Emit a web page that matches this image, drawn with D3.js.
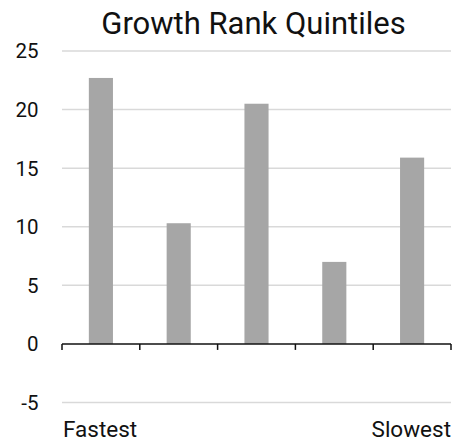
<!DOCTYPE html>
<html>
<head>
<meta charset="utf-8">
<script src="https://cdn.jsdelivr.net/npm/d3@7"></script>
<style>
  html, body { margin: 0; padding: 0; background: #fff; }
  svg { display: block; font-family: Roboto, "DejaVu Sans", sans-serif; }
</style>
</head>
<body>
<svg id="chart" width="456" height="441"></svg>
<script>
// Growth rank quintiles, fastest to slowest
const quintiles = ["Q1", "Q2", "Q3", "Q4", "Q5"];
const quintileLabels = ["Fastest", "", "", "", "Slowest"];
const values = [22.7, 10.3, 20.5, 7.0, 15.9];
const yTicks = [-5, 0, 5, 10, 15, 20, 25];

const svg = d3.select("#chart");
const margin = { top: 51, right: 5, bottom: 38.5, left: 62 };
const width = 456, height = 441;

const x = d3.scaleBand()
  .domain(quintiles)
  .range([margin.left, width - margin.right])
  .paddingInner(0.69)
  .paddingOuter(0.345);

const y = d3.scaleLinear()
  .domain([-5, 25])
  .range([height - margin.bottom, margin.top]);

// title
svg.append("text")
  .attr("x", (margin.left + width - margin.right) / 2 - 3)
  .attr("y", 34)
  .attr("text-anchor", "middle")
  .attr("font-size", 31)
  .attr("fill", "#111")
  .text("Growth Rank Quintiles");

// horizontal gridlines
svg.append("g")
  .selectAll("line")
  .data(yTicks.filter(d => d !== 0))
  .join("line")
  .attr("x1", margin.left)
  .attr("x2", width - margin.right)
  .attr("y1", d => y(d))
  .attr("y2", d => y(d))
  .attr("stroke", "#d9d9d9")
  .attr("stroke-width", 1.5);

// y tick labels
svg.append("g")
  .selectAll("text")
  .data(yTicks)
  .join("text")
  .attr("x", 38.5)
  .attr("y", d => y(d))
  .attr("dy", "0.36em")
  .attr("text-anchor", "end")
  .attr("font-size", 20.5)
  .attr("fill", "#111")
  .text(d => d);

// bars
svg.append("g")
  .selectAll("rect")
  .data(values)
  .join("rect")
  .attr("x", (d, i) => x(quintiles[i]))
  .attr("width", x.bandwidth())
  .attr("y", d => y(Math.max(0, d)))
  .attr("height", d => Math.abs(y(d) - y(0)))
  .attr("fill", "#a6a6a6");

// category axis along zero, ticks at band boundaries
const [x0, x1] = x.range();
const edges = d3.range(quintiles.length + 1).map(i => x0 + i * (x1 - x0) / quintiles.length);
const axis = svg.append("g").attr("stroke", "#111").attr("stroke-width", 1.5);
axis.append("line")
  .attr("x1", x0).attr("x2", x1)
  .attr("y1", y(0)).attr("y2", y(0));
axis.selectAll("line.tick")
  .data(edges)
  .join("line")
  .attr("class", "tick")
  .attr("x1", d => d).attr("x2", d => d)
  .attr("y1", y(0)).attr("y2", y(0) + 6);

// end labels
svg.append("g")
  .selectAll("text")
  .data(quintileLabels)
  .join("text")
  .attr("x", (d, i) => i === 0 ? x0 + 1 : x1)
  .attr("y", 437)
  .attr("text-anchor", (d, i) => i === 0 ? "start" : "end")
  .attr("font-size", 22.5)
  .attr("fill", "#111")
  .text(d => d);
</script>
</body>
</html>
